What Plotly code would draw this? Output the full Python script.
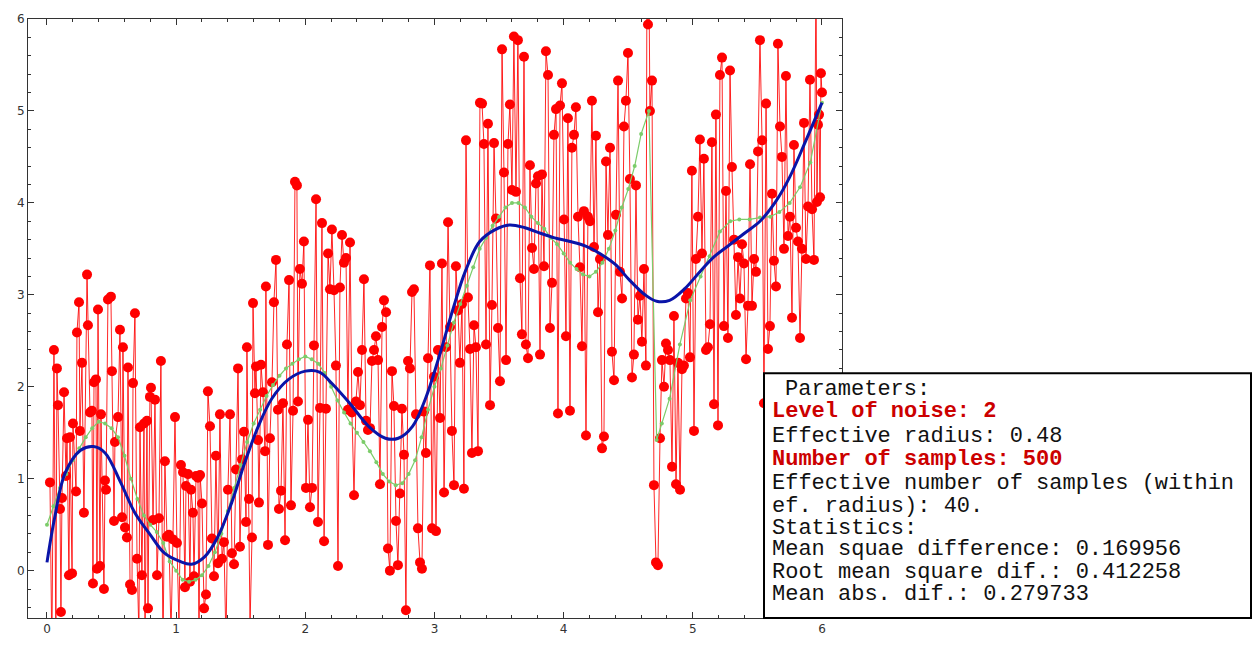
import plotly.graph_objects as go

# Noisy samples (x, y), in sample order
sample_x = [
    0.023, 0.038, 0.054, 0.069, 0.077, 0.085, 0.101, 0.108, 0.116, 0.132, 0.147, 0.155, 0.170, 0.178,
    0.194, 0.201, 0.225, 0.232, 0.248, 0.255, 0.271, 0.286, 0.310, 0.317, 0.333, 0.348, 0.356, 0.364,
    0.379, 0.387, 0.395, 0.410, 0.418, 0.441, 0.449, 0.457, 0.472, 0.495, 0.503, 0.519, 0.526, 0.550,
    0.565, 0.581, 0.588, 0.604, 0.619, 0.627, 0.643, 0.658, 0.666, 0.681, 0.697, 0.712, 0.720, 0.735,
    0.751, 0.759, 0.774, 0.782, 0.797, 0.805, 0.821, 0.836, 0.852, 0.867, 0.882, 0.898, 0.913, 0.929,
    0.944, 0.960, 0.975, 0.991, 1.006, 1.022, 1.037, 1.053, 1.068, 1.076, 1.092, 1.107, 1.115, 1.130,
    1.138, 1.154, 1.169, 1.177, 1.185, 1.200, 1.216, 1.231, 1.246, 1.262, 1.277, 1.293, 1.308, 1.324,
    1.339, 1.355, 1.370, 1.386, 1.401, 1.417, 1.432, 1.448, 1.463, 1.479, 1.494, 1.510, 1.525, 1.541,
    1.548, 1.564, 1.572, 1.587, 1.595, 1.610, 1.618, 1.634, 1.641, 1.657, 1.672, 1.688, 1.695, 1.711,
    1.726, 1.742, 1.757, 1.773, 1.788, 1.796, 1.812, 1.827, 1.843, 1.858, 1.874, 1.889, 1.905, 1.920,
    1.935, 1.943, 1.958, 1.974, 1.989, 2.005, 2.021, 2.036, 2.052, 2.067, 2.083, 2.098, 2.114, 2.129,
    2.145, 2.160, 2.176, 2.191, 2.206, 2.222, 2.237, 2.253, 2.268, 2.284, 2.299, 2.315, 2.330, 2.346,
    2.361, 2.377, 2.392, 2.408, 2.423, 2.439, 2.454, 2.470, 2.485, 2.501, 2.516, 2.532, 2.547, 2.563,
    2.578, 2.594, 2.609, 2.625, 2.640, 2.655, 2.671, 2.686, 2.702, 2.717, 2.733, 2.748, 2.764, 2.779,
    2.795, 2.810, 2.826, 2.841, 2.857, 2.872, 2.888, 2.903, 2.919, 2.934, 2.950, 2.965, 2.981, 2.996,
    3.012, 3.027, 3.043, 3.058, 3.074, 3.089, 3.105, 3.120, 3.135, 3.151, 3.166, 3.182, 3.197, 3.213,
    3.228, 3.244, 3.259, 3.275, 3.290, 3.306, 3.321, 3.337, 3.352, 3.368, 3.383, 3.399, 3.414, 3.430,
    3.445, 3.461, 3.476, 3.492, 3.507, 3.523, 3.538, 3.554, 3.569, 3.584, 3.600, 3.615, 3.631, 3.646,
    3.662, 3.677, 3.693, 3.708, 3.724, 3.739, 3.755, 3.770, 3.786, 3.801, 3.817, 3.832, 3.848, 3.863,
    3.879, 3.894, 3.910, 3.925, 3.941, 3.956, 3.972, 3.987, 4.003, 4.018, 4.033, 4.049, 4.064, 4.080,
    4.095, 4.111, 4.126, 4.142, 4.157, 4.173, 4.188, 4.204, 4.219, 4.235, 4.250, 4.266, 4.281, 4.297,
    4.312, 4.328, 4.343, 4.359, 4.374, 4.390, 4.405, 4.421, 4.436, 4.452, 4.467, 4.482, 4.498, 4.513,
    4.529, 4.544, 4.560, 4.575, 4.591, 4.606, 4.622, 4.637, 4.645, 4.653, 4.660, 4.668, 4.684, 4.699,
    4.715, 4.730, 4.746, 4.761, 4.777, 4.792, 4.808, 4.823, 4.839, 4.854, 4.870, 4.885, 4.901, 4.916,
    4.931, 4.947, 4.962, 4.978, 4.993, 5.009, 5.024, 5.040, 5.055, 5.071, 5.086, 5.102, 5.117, 5.133,
    5.148, 5.164, 5.179, 5.195, 5.210, 5.226, 5.241, 5.257, 5.272, 5.288, 5.303, 5.319, 5.334, 5.350,
    5.365, 5.381, 5.396, 5.412, 5.427, 5.443, 5.458, 5.474, 5.489, 5.505, 5.520, 5.536, 5.551, 5.567,
    5.582, 5.597, 5.613, 5.628, 5.644, 5.659, 5.675, 5.690, 5.706, 5.721, 5.737, 5.752, 5.768, 5.783,
    5.799, 5.814, 5.830, 5.845, 5.861, 5.876, 5.892, 5.907, 5.923, 5.938, 5.954, 5.961, 5.969, 5.977,
    5.985, 5.992, 6.000,
]
sample_y = [
    0.96, -0.90, 2.40, -0.80, 2.20, 1.80, 0.67, -0.45, 0.79, 1.94, 1.03, 1.44, -0.05, 1.45,
    -0.03, 1.60, 0.86, 2.59, 2.92, 1.52, 2.26, 0.63, 3.22, 2.67, 1.72, 1.74, -0.14, 2.05,
    2.08, 0.02, 2.84, 0.05, 1.70, -0.20, 0.98, 0.88, 2.95, 2.98, 2.17, 0.54, 1.40, 1.67,
    2.62, 0.58, 2.43, 0.47, 0.36, 2.21, -0.15, -0.21, 2.04, 2.80, 0.13, -0.70, 1.56, -0.05,
    1.60, -0.80, 1.63, -0.41, 1.89, 1.99, 0.55, 1.86, -0.05, 0.57, 2.28, -0.90, 1.19, 0.37,
    0.39, -0.70, 0.34, 1.67, 0.30, -0.60, 1.15, 1.07, -0.18, 0.92, 1.05, -0.12, 0.88, 0.63,
    -0.06, 1.03, 1.01, -0.90, 1.04, 0.73, -0.41, -0.26, 1.95, 1.57, 0.35, -0.06, 1.25, 0.08,
    1.70, 0.13, 0.31, -0.80, 0.88, 1.70, 0.19, 0.07, 1.10, 2.20, 0.26, 1.21, 1.51, 0.53,
    2.43, 0.78, -0.60, 0.36, 2.91, 1.93, 2.22, 1.42, 0.74, 2.24, 1.94, 1.30, 3.09, 0.28,
    1.44, 2.05, 2.92, 3.38, 1.75, 0.67, 0.87, 1.82, 0.33, 2.46, 3.16, 0.71, 1.74, 4.23,
    4.19, 1.84, 3.28, 3.12, 3.58, 0.90, 1.64, 0.69, 0.90, 2.45, 4.04, 0.53, 1.77, 3.78,
    0.32, 1.76, 3.45, 3.06, 3.71, 3.05, 2.23, 0.05, 3.08, 3.65, 3.35, 3.40, 1.75, 3.57,
    1.72, 0.82, 1.84, 2.16, 1.80, 2.40, 3.17, 1.63, 1.53, 1.55, 2.28, 2.40, 2.55, 2.29,
    0.94, 2.65, 2.94, 2.81, 0.24, 0.00, 2.17, 1.79, 0.54, 0.06, 0.84, 1.76, 1.26, -0.43,
    2.28, 2.20, 3.03, 3.06, 1.70, 0.46, 0.09, 0.02, 1.73, 1.28, 2.31, 3.32, 0.46, 2.11,
    0.43, 2.40, 1.66, 3.34, 0.85, 2.43, 3.79, 2.65, 1.52, 0.93, 3.31, 2.83, 2.26, 2.90,
    0.89, 4.68, 2.97, 2.41, 1.28, 2.67, 2.43, 1.30, 5.09, 5.08, 4.64, 2.46, 4.86, 1.80,
    2.89, 4.65, 3.83, 2.64, 2.06, 5.67, 4.33, 2.29, 4.64, 5.07, 4.14, 5.81, 4.12, 5.77,
    3.18, 2.57, 5.59, 2.46, 2.31, 4.41, 3.51, 3.28, 4.21, 4.29, 2.35, 4.31, 3.31, 5.65,
    5.39, 2.64, 3.13, 4.74, 5.02, 1.71, 5.06, 5.30, 3.82, 2.55, 4.92, 1.74, 4.60, 4.74,
    5.04, 3.85, 3.30, 2.44, 3.91, 1.47, 3.85, 3.80, 5.11, 3.52, 4.73, 2.81, 3.39, 1.33,
    1.46, 4.45, 3.65, 4.60, 2.38, 2.07, 3.87, 5.33, 3.25, 2.96, 4.83, 5.11, 5.63, 4.26,
    2.10, 2.35, 4.19, 2.73, 2.99, 2.49, 3.28, 2.23, 6.60, 5.94, 6.50, 5.00, 5.33, 0.93,
    0.09, 0.06, 1.44, 2.29, 2.00, 2.47, 2.40, 2.29, 1.13, 2.77, 0.94, 2.26, 0.88, 2.19,
    2.23, 2.96, 3.02, 2.32, 4.35, 1.52, 3.39, 3.85, 4.69, 3.45, 4.48, 2.40, 2.43, 2.68,
    4.66, 1.81, 4.96, 1.58, 5.39, 5.58, 2.66, 4.13, 2.53, 5.44, 4.39, 3.60, 2.78, 3.41,
    2.96, 3.55, 3.34, 2.30, 2.88, 4.42, 2.88, 3.39, 3.25, 4.56, 5.77, 4.68, 1.82, 5.08,
    2.41, 2.66, 4.10, 3.37, 3.09, 5.73, 4.83, 4.50, 3.50, 5.38, 3.64, 3.85, 2.75, 4.63,
    3.73, 3.58, 2.53, 3.50, 4.87, 3.39, 3.96, 5.34, 3.93, 3.38, 6.50, 4.01, 4.85, 4.96,
    4.06, 5.41, 5.20,
]

# Kernel-smoothed estimate (blue)
smooth_x = [0.00, 0.06, 0.14, 0.26, 0.36, 0.45, 0.57, 0.68, 0.80, 0.91, 1.03, 1.12, 1.22, 1.32,
            1.43, 1.53, 1.63, 1.74, 1.87, 2.00, 2.11, 2.21, 2.35, 2.49, 2.62, 2.72, 2.83, 2.93,
            3.03, 3.14, 3.24, 3.35, 3.47, 3.58, 3.70, 3.82, 3.93, 4.05, 4.17, 4.28, 4.40, 4.51,
            4.63, 4.72, 4.82, 4.94, 5.06, 5.17, 5.29, 5.40, 5.52, 5.64, 5.75, 5.87, 6.00]
smooth_y = [0.09, 0.58, 1.06, 1.31, 1.35, 1.28, 0.96, 0.63, 0.39, 0.19, 0.10, 0.07, 0.15, 0.36,
            0.74, 1.17, 1.55, 1.87, 2.08, 2.17, 2.16, 2.03, 1.81, 1.57, 1.44, 1.44, 1.57, 1.87,
            2.30, 2.83, 3.26, 3.58, 3.71, 3.76, 3.73, 3.67, 3.62, 3.58, 3.53, 3.45, 3.33, 3.16,
            3.00, 2.93, 2.94, 3.07, 3.26, 3.42, 3.55, 3.67, 3.80, 4.01, 4.28, 4.66, 5.09]

# Local average over the effective radius (green)
local_x = [0.00, 0.05, 0.10, 0.15, 0.20, 0.25, 0.30, 0.35, 0.40, 0.45, 0.50, 0.55, 0.60, 0.65,
           0.70, 0.75, 0.80, 0.85, 0.90, 0.95, 1.00, 1.05, 1.10, 1.15, 1.20, 1.25, 1.30, 1.35,
           1.40, 1.45, 1.50, 1.55, 1.60, 1.65, 1.70, 1.75, 1.80, 1.85, 1.90, 1.95, 2.00, 2.05,
           2.10, 2.15, 2.20, 2.25, 2.30, 2.35, 2.40, 2.45, 2.50, 2.55, 2.60, 2.65, 2.70, 2.75,
           2.80, 2.85, 2.90, 2.95, 3.00, 3.05, 3.10, 3.15, 3.20, 3.25, 3.30, 3.35, 3.40, 3.45,
           3.50, 3.55, 3.60, 3.65, 3.70, 3.75, 3.80, 3.85, 3.90, 3.95, 4.00, 4.05, 4.10, 4.15,
           4.20, 4.25, 4.30, 4.35, 4.40, 4.45, 4.50, 4.55, 4.60, 4.66, 4.72, 4.76, 4.82, 4.90,
           4.98, 5.06, 5.13, 5.21, 5.29, 5.36, 5.44, 5.52, 5.60, 5.67, 5.75, 5.83, 5.91, 6.00]
local_y = [0.50, 0.70, 0.90, 1.05, 1.20, 1.33, 1.45, 1.55, 1.62, 1.60, 1.55, 1.45, 1.25, 1.00,
           0.78, 0.60, 0.50, 0.42, 0.30, 0.10, 0.00, -0.10, -0.12, -0.10, -0.05, 0.05, 0.20, 0.40,
           0.65, 0.90, 1.15, 1.40, 1.60, 1.75, 1.90, 2.02, 2.12, 2.20, 2.25, 2.30, 2.33, 2.30,
           2.25, 2.15, 2.00, 1.85, 1.72, 1.60, 1.50, 1.40, 1.30, 1.18, 1.05, 0.97, 0.93, 0.95,
           1.05, 1.20, 1.45, 1.75, 2.00, 2.20, 2.45, 2.70, 2.90, 3.10, 3.30, 3.50, 3.62, 3.75,
           3.85, 3.95, 4.00, 4.00, 3.95, 3.85, 3.78, 3.72, 3.62, 3.55, 3.45, 3.35, 3.28, 3.22,
           3.20, 3.25, 3.35, 3.50, 3.70, 3.95, 4.15, 4.40, 4.75, 5.00, 1.42, 1.60, 1.87, 2.46,
           2.94, 3.20, 3.42, 3.69, 3.80, 3.82, 3.82, 3.84, 3.85, 3.90, 4.00, 4.17, 4.44, 5.09]

info_lines = [
    ("Parameters:", False),
    ("Level of noise: 2", True),
    ("Effective radius: 0.48", False),
    ("Number of samples: 500", True),
    ("Effective number of samples (within", False),
    ("ef. radius): 40.", False),
    ("Statistics:", False),
    ("Mean squae difference: 0.169956", False),
    ("Root mean square dif.: 0.412258", False),
    ("Mean abs. dif.: 0.279733", False),
]

fig = go.Figure()

fig.add_trace(go.Scatter(
    x=sample_x, y=sample_y, mode="lines+markers",
    line=dict(color="rgba(255,0,0,0.85)", width=1),
    marker=dict(color="#ff0000", size=10, line=dict(width=0)),
    hoverinfo="skip", showlegend=False,
))
fig.add_trace(go.Scatter(
    x=local_x, y=local_y, mode="lines+markers",
    line=dict(color="#7ccc6a", width=1.2),
    marker=dict(color="#7ccc6a", size=4),
    hoverinfo="skip", showlegend=False,
))
fig.add_trace(go.Scatter(
    x=smooth_x, y=smooth_y, mode="lines",
    line=dict(color="#0a14a8", width=3, shape="spline", smoothing=1.0),
    hoverinfo="skip", showlegend=False,
))

axis_common = dict(
    showgrid=False, zeroline=False, showline=True, linecolor="#333333", linewidth=1,
    mirror="ticks", ticks="inside", ticklen=6, tickcolor="#333333", tickwidth=1,
    tickfont=dict(family="DejaVu Sans", size=12, color="#333333"),
    minor=dict(ticks="inside", ticklen=3, tickcolor="#333333", dtick=0.2, showgrid=False),
)
fig.update_xaxes(range=[-0.147, 6.155], tick0=0, dtick=1, **axis_common)
fig.update_yaxes(range=[-0.515, 6.0], tick0=0, dtick=1, **axis_common)

# Parameters / statistics panel
plot_l, plot_r, plot_t, plot_b = 28, 842, 15, 622
pw, ph = plot_r - plot_l, plot_b - plot_t


def px_x(v):
    return (v - plot_l) / pw


def px_y(v):
    return (plot_b - v) / ph


fig.add_shape(type="rect", xref="paper", yref="paper",
              x0=px_x(764), x1=px_x(1251), y0=px_y(622), y1=px_y(374),
              line=dict(color="black", width=2), fillcolor="white", layer="above")

line_pos = [390, 413, 438, 461, 486, 509, 531, 553, 576, 598]
for (txt, bold), py in zip(info_lines, line_pos):
    left = 783 if txt == "Parameters:" else 770
    fig.add_annotation(
        xref="paper", yref="paper", x=px_x(left), y=px_y(py),
        xanchor="left", yanchor="middle", showarrow=False,
        text=f"<b>{txt}</b>" if bold else txt,
        font=dict(family="Liberation Mono", size=22,
                  color="#cc0000" if bold else "#111111"),
    )

fig.update_layout(
    width=1256, height=648,
    margin=dict(l=plot_l, r=1256 - plot_r, t=plot_t, b=648 - plot_b),
    paper_bgcolor="white", plot_bgcolor="white",
)

fig.write_html("out.html")
